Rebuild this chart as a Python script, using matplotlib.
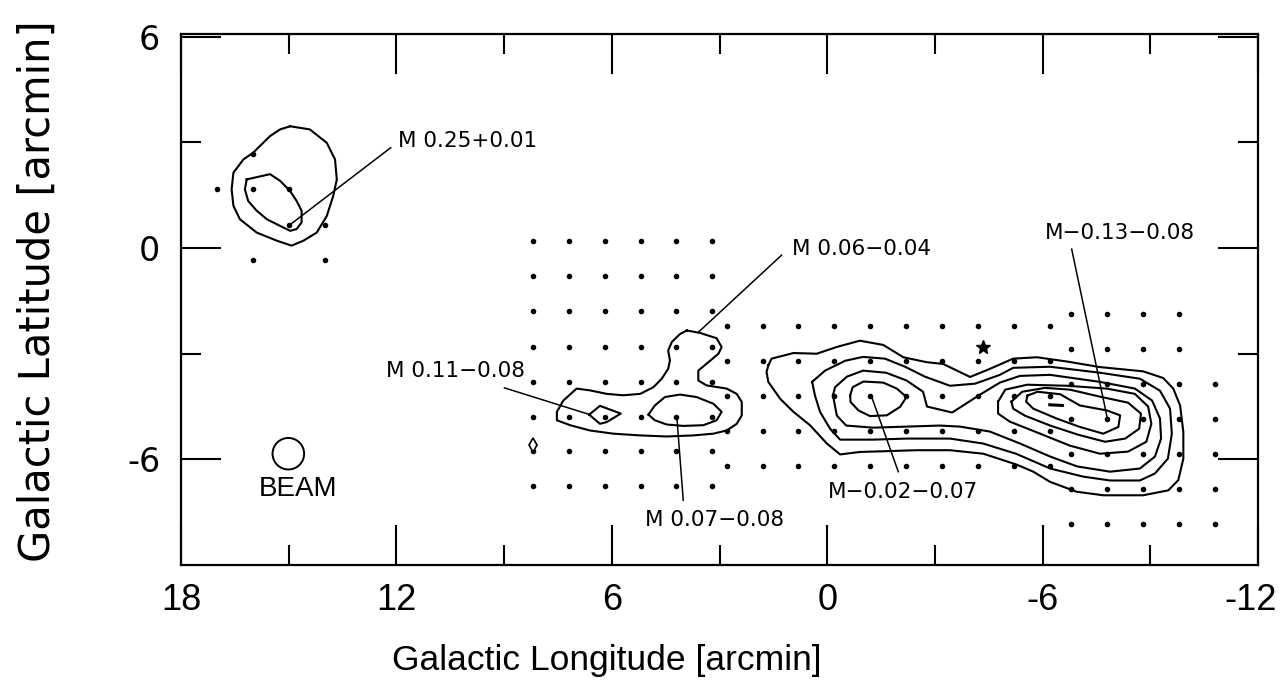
import numpy as np
import matplotlib
matplotlib.use("Agg")
import matplotlib.pyplot as plt
from matplotlib.patches import Ellipse
from matplotlib.transforms import ScaledTranslation

# ---------------- data (galactic offsets, arcmin) ----------------
x_major = [18, 12, 6, 0, -6, -12]
x_major_labels = ["18", "12", "6", "0", "-6", "-12"]
x_minor = [15, 9, 3, -3, -9]
y_major = [6, 0, -6]
y_major_labels = ["6", "0", "-6"]
y_minor = [3, -3]

# observed positions (dots)
m025_pts_l = [17.0, 16.0, 16.0, 15.0, 15.0, 14.0, 16.0, 14.0]
m025_pts_b = [1.67, 2.66, 1.67, 1.67, 0.65, 0.65, -0.34, -0.34]
left_grid_l = [8.2, 7.2, 6.2, 5.2, 4.2, 3.2]
left_grid_b = [0.2, -0.8, -1.8, -2.8, -3.8, -4.8, -5.75, -6.75]
mid_grid_l = [2.8, 1.8, 0.8, -0.2, -1.2, -2.2, -3.2, -4.2, -5.2, -6.2]
mid_grid_b = [-2.2, -3.2, -4.2, -5.2, -6.2]
rtop_grid_l = [-6.8, -7.8, -8.8, -9.8]
rtop_grid_b = [-1.87, -2.87]
rlow_grid_l = [-6.8, -7.8, -8.8, -9.8, -10.8]
rlow_grid_b = [-3.87, -4.86, -5.85, -6.84, -7.83]

# contours: M 0.25+0.01
m025_c1_l = [14.96, 14.41, 13.94, 13.71, 13.66, 13.76, 13.94, 14.22, 14.59, 14.92, 15.33, 15.89, 16.36, 16.54, 16.59, 16.54, 16.26, 15.99, 15.52, 15.24]
m025_c1_b = [3.46, 3.37, 2.99, 2.52, 1.95, 1.48, 0.91, 0.44, 0.21, 0.07, 0.21, 0.44, 0.82, 1.20, 1.67, 2.14, 2.52, 2.71, 3.18, 3.37]
m025_c2_l = [16.17, 15.52, 15.24, 14.96, 14.78, 14.64, 14.64, 14.78, 14.96, 15.24, 15.61, 15.89, 16.13, 16.22]
m025_c2_b = [1.95, 2.10, 1.91, 1.62, 1.34, 1.06, 0.73, 0.54, 0.49, 0.63, 0.82, 1.06, 1.34, 1.67]

# contours: M 0.11-0.08 / M 0.07-0.08 / M 0.06-0.04 complex
mid_c1_l = [3.91, 3.54, 3.08, 2.94, 3.03, 3.31, 3.59, 3.59, 3.36, 2.80, 2.52, 2.38, 2.38, 2.52, 2.80, 3.17, 3.73, 4.47, 5.21, 5.96, 6.61, 7.16, 7.53, 7.53, 7.35, 6.98, 6.61, 6.14, 5.68, 5.21, 4.84, 4.61, 4.43, 4.38, 4.43, 4.33, 4.10]
mid_c1_b = [-2.34, -2.41, -2.56, -2.81, -3.00, -3.24, -3.48, -3.76, -3.90, -3.99, -4.14, -4.37, -4.75, -4.99, -5.18, -5.27, -5.32, -5.35, -5.32, -5.27, -5.18, -5.03, -4.89, -4.65, -4.33, -3.99, -4.04, -4.14, -4.18, -4.14, -3.95, -3.71, -3.43, -3.19, -2.91, -2.67, -2.44]
m011_c2_l = [6.63, 6.33, 5.75, 6.14, 6.33]
m011_c2_b = [-4.73, -4.48, -4.70, -4.94, -4.99]
m007_c2_l = [4.98, 4.80, 4.52, 4.10, 3.64, 3.17, 2.94, 3.08, 3.45, 4.01, 4.47, 4.80]
m007_c2_b = [-4.73, -4.47, -4.23, -4.16, -4.23, -4.42, -4.65, -4.89, -5.03, -5.05, -5.01, -4.89]

# contours: M-0.02-0.07 / M-0.13-0.08 complex
gc_c1_l = [1.64, 1.55, 0.94, 0.29, -0.26, -0.91, -1.56, -2.12, -2.77, -3.23, -3.98, -4.53, -5.18, -5.84, -6.67, -7.60, -8.80, -9.36, -9.64, -9.83, -9.92, -9.92, -9.78, -9.50, -8.80, -7.69, -6.95, -6.21, -5.74, -5.28, -4.35, -3.42, -2.49, -1.56, -0.91, -0.36, 0.01, 0.48, 0.94, 1.31, 1.64, 1.69]
gc_c1_b = [-3.33, -3.14, -2.98, -3.00, -2.81, -2.63, -2.75, -3.10, -3.24, -3.29, -3.66, -3.43, -3.14, -3.10, -3.22, -3.38, -3.50, -3.69, -3.99, -4.47, -5.22, -5.98, -6.59, -6.88, -7.02, -7.02, -6.92, -6.64, -6.35, -6.15, -5.84, -5.74, -5.74, -5.77, -5.79, -5.86, -5.55, -5.03, -4.65, -4.28, -3.80, -3.52]
gc_c2_l = [0.42, 0.06, -0.50, -1.00, -1.61, -2.17, -2.72, -3.42, -4.12, -4.81, -5.18, -6.21, -7.60, -8.71, -9.27, -9.55, -9.60, -9.49, -9.13, -8.71, -7.88, -7.13, -6.21, -5.26, -4.34, -3.42, -2.20, -1.28, -0.36, -0.08, 0.20, 0.34]
gc_c2_b = [-3.80, -3.48, -3.20, -3.09, -3.14, -3.37, -3.65, -3.91, -3.85, -3.60, -3.40, -3.37, -3.54, -3.71, -4.05, -4.56, -5.27, -5.98, -6.40, -6.60, -6.60, -6.49, -6.26, -5.84, -5.55, -5.41, -5.41, -5.44, -5.44, -5.13, -4.65, -4.19]
gc_c3_l = [-0.16, -0.22, -0.55, -1.00, -1.64, -2.21, -2.67, -2.78, -3.48, -4.26, -4.81, -5.37, -6.21, -7.60, -8.57, -9.05, -9.27, -9.30, -9.13, -8.71, -7.88, -6.96, -6.21, -5.37, -4.53, -3.70, -3.14, -2.20, -1.28, -0.53, -0.27]
gc_c3_b = [-4.18, -3.95, -3.65, -3.48, -3.54, -3.76, -4.08, -4.50, -4.67, -4.16, -3.82, -3.63, -3.60, -3.80, -3.99, -4.33, -4.84, -5.41, -5.92, -6.26, -6.35, -6.20, -5.92, -5.55, -5.21, -5.07, -5.04, -5.07, -5.10, -5.04, -4.76]
m002_c4_l = [-0.64, -0.71, -1.01, -1.56, -1.94, -2.21, -2.03, -1.66, -1.19, -0.87, -0.65]
m002_c4_b = [-4.18, -3.95, -3.79, -3.82, -3.99, -4.23, -4.51, -4.75, -4.77, -4.61, -4.37]
m013_c4_l = [-4.76, -4.96, -5.57, -6.68, -7.79, -8.57, -8.94, -9.03, -8.89, -8.38, -7.60, -6.76, -5.93, -5.09, -4.76]
m013_c4_b = [-4.36, -4.02, -3.88, -3.91, -3.99, -4.14, -4.50, -4.99, -5.50, -5.78, -5.84, -5.61, -5.27, -4.93, -4.70]
m013_c5_l = [-5.13, -5.43, -6.07, -6.76, -7.60, -8.38, -8.74, -8.69, -8.30, -7.74, -6.99, -6.21, -5.51, -5.18]
m013_c5_b = [-4.36, -4.08, -3.97, -4.02, -4.22, -4.39, -4.70, -5.13, -5.41, -5.50, -5.30, -5.04, -4.76, -4.56]
m013_c6_l = [-5.58, -5.86, -6.49, -7.04, -7.79, -8.16, -8.11, -7.69, -7.04, -6.39, -5.74, -5.54]
m013_c6_b = [-4.19, -4.08, -4.15, -4.47, -4.61, -4.75, -5.08, -5.27, -5.08, -4.84, -4.56, -4.36]

contours = [
    (m025_c1_l, m025_c1_b), (m025_c2_l, m025_c2_b),
    (mid_c1_l, mid_c1_b), (m011_c2_l, m011_c2_b), (m007_c2_l, m007_c2_b),
    (gc_c1_l, gc_c1_b), (gc_c2_l, gc_c2_b), (gc_c3_l, gc_c3_b), (m002_c4_l, m002_c4_b),
    (m013_c4_l, m013_c4_b), (m013_c5_l, m013_c5_b), (m013_c6_l, m013_c6_b),
]

# source labels: text, label position, leader start, leader end, alignment
src_names = ["M 0.25+0.01", "M 0.11\u22120.08", "M 0.07\u22120.08", "M 0.06\u22120.04",
             "M\u22120.02\u22120.07", "M\u22120.13\u22120.08"]
src_text_l = [11.95, 8.42, 3.15, 0.99, -2.12, -8.16]
src_text_b = [3.04, -3.48, -7.71, -0.03, -6.92, 0.44]
src_ha = ["left", "right", "center", "left", "center", "center"]
lead_l0 = [12.16, 8.99, 4.01, 1.27, -1.98, -6.81]
lead_b0 = [2.85, -3.97, -7.16, -0.20, -6.35, -0.03]
lead_l1 = [14.98, 6.61, 4.19, 3.59, -1.24, -7.80]
lead_b1 = [0.65, -4.73, -4.77, -2.39, -4.23, -4.82]

star_l, star_b = [-4.35], [-2.81]
beam_l, beam_b, beam_diam = 15.01, -5.84, 0.88
beam_text_l, beam_text_b = 14.73, -6.83
diamond_l, diamond_b = [8.19], [-5.60]
peak_tick_l, peak_tick_b = [-6.2, -6.55], [-4.45, -4.47]

# ---------------- figure ----------------
W, H = 1282, 686
fig = plt.figure(figsize=(W / 100, H / 100), dpi=100)
ax = fig.add_axes([181 / W, 1 - 565 / H, (1258 - 181) / W, (565 - 34) / H])
ax.set_xlim(18, -12)
ax.set_ylim(-9.0, 6.08)

for l, b in contours:
    ax.plot(list(l) + [l[0]], list(b) + [b[0]], color="black", lw=1.5, solid_joinstyle="round")
ax.plot(peak_tick_l, peak_tick_b, color="black", lw=2.2)

# dots
dot_kw = dict(ls="none", marker="o", ms=3.0, color="black")
ax.plot(m025_pts_l, m025_pts_b, **dot_kw)
for gl, gb in [(left_grid_l, left_grid_b), (mid_grid_l, mid_grid_b),
               (rtop_grid_l, rtop_grid_b), (rlow_grid_l, rlow_grid_b)]:
    L, B = np.meshgrid(gl, gb)
    ax.plot(L.ravel(), B.ravel(), **dot_kw)

ax.plot(diamond_l, diamond_b, ls="none", marker="d", ms=7, mfc="white", mec="black", mew=1.2)
ax.plot(star_l, star_b, ls="none", marker="*", ms=10, color="black")

# leaders & labels
for i, name in enumerate(src_names):
    ax.plot([lead_l0[i], lead_l1[i]], [lead_b0[i], lead_b1[i]], color="black", lw=1.1)
    ax.text(src_text_l[i], src_text_b[i], name, ha=src_ha[i], va="center",
            fontsize=15.5, family="DejaVu Sans")

# beam
ax.add_patch(Ellipse((beam_l, beam_b), beam_diam, beam_diam * 35.9 / 35.3,
                     fill=False, ec="black", lw=1.4))
ax.text(beam_text_l, beam_text_b, "BEAM", ha="center", va="center", fontsize=20,
        family="Liberation Sans")

# axes styling
for s in ax.spines.values():
    s.set_linewidth(1.6)
ax.set_xticks(x_major)
ax.set_xticklabels(x_major_labels, family="Liberation Sans", fontsize=26)
ax.set_xticks(x_minor, minor=True)
ax.set_yticks(y_major)
ax.set_yticklabels(y_major_labels, family="DejaVu Sans", fontsize=24)
ax.set_yticks(y_minor, minor=True)
ax.tick_params(which="both", direction="in", top=True, right=True, width=1.5, color="black")
ax.tick_params(which="major", length=29)
ax.tick_params(which="minor", length=14.5)
ax.tick_params(axis="x", which="major", pad=13)
ax.tick_params(axis="y", which="major", pad=15)
# keep the last longitude label inside the canvas, as in the original
last = ax.get_xticklabels()[-1]
last.set_transform(last.get_transform() + ScaledTranslation(-0.07, 0, fig.dpi_scale_trans))

ax.set_xlabel("Galactic Longitude [arcmin]", family="Liberation Sans", fontsize=25.5, va="center")
ax.xaxis.set_label_coords(0.395, -0.179)
ax.set_ylabel("Galactic Latitude [arcmin]", family="DejaVu Sans", fontsize=30, va="center")
ax.yaxis.set_label_coords(-0.133, 0.516)

fig.savefig("out.png", dpi=100)
